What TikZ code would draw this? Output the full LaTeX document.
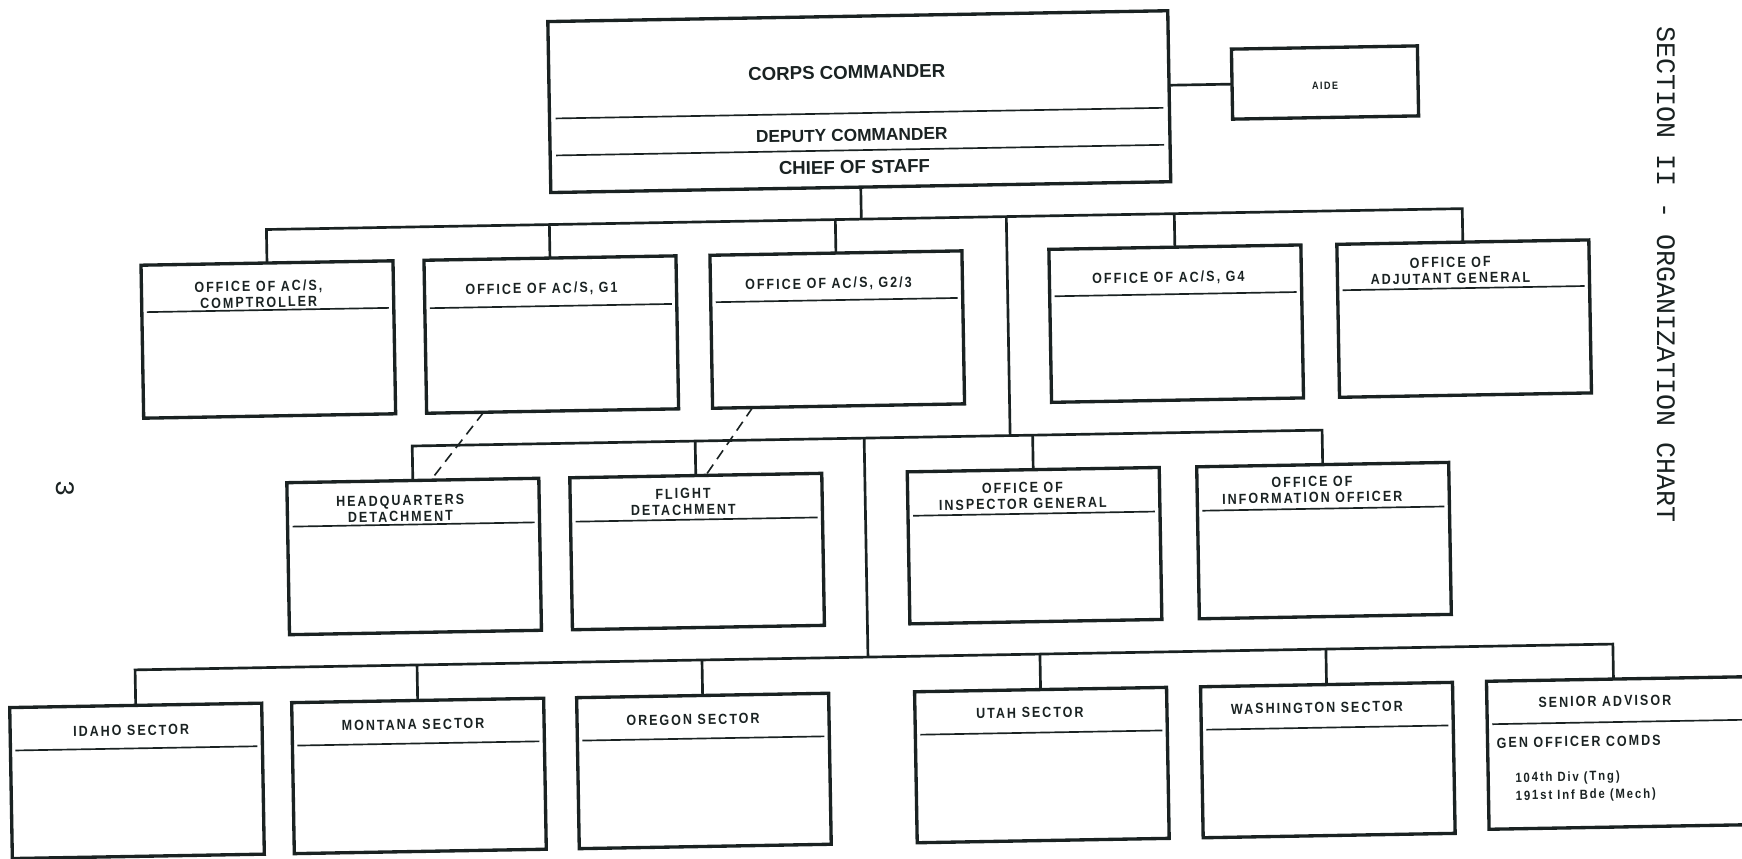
\documentclass[tikz,border=0pt]{standalone}
\usepackage{fontspec}
\setmainfont{Liberation Sans}
\newfontfamily\chartfont[LetterSpace=14,FakeStretch=0.85]{Liberation Sans}
\newfontfamily\typewriter{Liberation Mono}
\usepackage{tikz}
\usetikzlibrary{calc}
\definecolor{ink}{RGB}{26,34,34}

\begin{document}
\begin{tikzpicture}[x=0.75pt,y=0.75pt,yscale=-1,xscale=1,
  orgbox/.style={draw=ink,fill=white,line width=2.5pt,outer sep=0pt,inner sep=0pt,minimum width=189pt},
  boxlabel/.style={text=ink,inner sep=0pt,align=center,font=\chartfont\bfseries\fontsize{11}{12}\selectfont},
  wire/.style={draw=ink,line width=2pt},
  divider/.style={draw=ink,line width=1.25pt},
  dashwire/.style={draw=ink,line width=1.2pt,dash pattern=on 8pt off 5pt},
  typed/.style={text=ink,inner sep=0pt,font=\typewriter\fontsize{20}{24}\selectfont}]
%set diagram to the page: 1742 x 858
\useasboundingbox (0,0) rectangle (1742,858);
\clip (0,0) rectangle (1742,858);
\fill [white] (0,0) rectangle (1742,858);

\begin{scope}[transform canvas={rotate around={1:(870,-430)}}]
%Shape: Rectangle [corps]
\node [orgbox,minimum width=465pt,minimum height=128.25pt] (corps) at (865,101.5) {};
%Shape: Rectangle [aide]
\node [orgbox,minimum width=139.5pt,minimum height=52.5pt] (aide) at (1331,90.5) {};
%Shape: Rectangle [row of staff offices]
\node [orgbox,minimum height=114.75pt] (comptroller) at (270,329) {};
\node [orgbox,minimum height=114.75pt] (gone) at (553,329) {};
\node [orgbox,minimum height=114.75pt] (gtwothree) at (839,329) {};
\node [orgbox,minimum height=114.75pt] (gfour) at (1178,329) {};
\node [orgbox,minimum height=114.75pt] (adjutant) at (1466,329) {};
%Shape: Rectangle [row of detachments]
\node [orgbox,minimum height=114pt] (hqdet) at (412,548.5) {};
\node [orgbox,minimum height=114pt] (flightdet) at (695,548.5) {};
\node [orgbox,minimum height=114pt] (inspector) at (1032.5,548.5) {};
\node [orgbox,minimum height=114pt] (information) at (1322,548.5) {};
%Shape: Rectangle [row of sectors]
\node [orgbox,minimum height=113.25pt] (idaho) at (131,768) {};
\node [orgbox,minimum height=113.25pt] (montana) at (413,768) {};
\node [orgbox,minimum height=113.25pt] (oregon) at (698,768) {};
\node [orgbox,minimum height=113.25pt] (utah) at (1036,768) {};
\node [orgbox,minimum height=113.25pt] (washington) at (1322,768) {};
\node [orgbox,minimum width=210pt,minimum height=111pt] (senior) at (1622,766) {};

%Bus levels
\coordinate (bustwo) at (865,219);
\coordinate (trunkone) at (1010,219);
\coordinate (busthree) at (864,438);
\coordinate (busfour) at (864,657);
\coordinate (seniortap) at (1609,692);

%Straight Lines [commander to aide]
\draw [wire] (corps.east |- aide.west) -- (aide.west);
%Straight Lines [commander to staff]
\draw [wire] (corps.south) -- (corps.south |- bustwo);
\draw [wire] (comptroller.north) |- (adjutant.north |- bustwo) -- (adjutant.north);
\draw [wire] (gone.north) -- (gone.north |- bustwo);
\draw [wire] (gtwothree.north) -- (gtwothree.north |- bustwo);
\draw [wire] (gfour.north) -- (gfour.north |- bustwo);
%Straight Lines [to detachments]
\draw [wire] (trunkone) -- (trunkone |- busthree);
\draw [wire] (hqdet.north) |- (information.north |- busthree) -- (information.north);
\draw [wire] (flightdet.north) -- (flightdet.north |- busthree);
\draw [wire] (inspector.north) -- (inspector.north |- busthree);
%Straight Lines [to sectors]
\draw [wire] (busthree) -- (busfour);
\draw [wire] (idaho.north) |- (seniortap |- busfour) -- (seniortap);
\draw [wire] (montana.north) -- (montana.north |- busfour);
\draw [wire] (oregon.north) -- (oregon.north |- busfour);
\draw [wire] (utah.north) -- (utah.north |- busfour);
\draw [wire] (washington.north) -- (washington.north |- busfour);
%Dashed Lines [staff supervision]
\draw [dashwire] ($(gone.south)+(-69,0)$) -- ($(hqdet.north)+(18,0)$);
\draw [dashwire] ($(gtwothree.south)+(-86,0)$) -- ($(flightdet.north)+(10,0)$);

%Straight Lines [dividers]
\draw [divider] ($(corps.north west)+(6,97)$) -- ($(corps.north east)+(-6,97)$);
\draw [divider] ($(corps.north west)+(6,134)$) -- ($(corps.north east)+(-6,134)$);
\draw [divider] ($(comptroller.north west)+(5,47)$) -- ($(comptroller.north east)+(-5,47)$);
\draw [divider] ($(gone.north west)+(5,48)$) -- ($(gone.north east)+(-5,48)$);
\draw [divider] ($(gtwothree.north west)+(5,47)$) -- ($(gtwothree.north east)+(-5,47)$);
\draw [divider] ($(gfour.north west)+(5,47)$) -- ($(gfour.north east)+(-5,47)$);
\draw [divider] ($(adjutant.north west)+(5,46)$) -- ($(adjutant.north east)+(-5,46)$);
\draw [divider] ($(hqdet.north west)+(5,44)$) -- ($(hqdet.north east)+(-5,44)$);
\draw [divider] ($(flightdet.north west)+(5,44)$) -- ($(flightdet.north east)+(-5,44)$);
\draw [divider] ($(inspector.north west)+(5,44)$) -- ($(inspector.north east)+(-5,44)$);
\draw [divider] ($(information.north west)+(5,44)$) -- ($(information.north east)+(-5,44)$);
\draw [divider] ($(idaho.north west)+(5,43)$) -- ($(idaho.north east)+(-5,43)$);
\draw [divider] ($(montana.north west)+(5,43)$) -- ($(montana.north east)+(-5,43)$);
\draw [divider] ($(oregon.north west)+(5,43)$) -- ($(oregon.north east)+(-5,43)$);
\draw [divider] ($(utah.north west)+(5,43)$) -- ($(utah.north east)+(-5,43)$);
\draw [divider] ($(washington.north west)+(5,43)$) -- ($(washington.north east)+(-5,43)$);
\draw [divider] ($(senior.north west)+(5,43)$) -- ($(senior.north east)+(-5,43)$);

% Text Node
\node [text=ink,inner sep=0pt,font=\bfseries\fontsize{14}{16}\selectfont] (corps-text) at ($(corps.north)+(-12,56)$) {CORPS COMMANDER};
% Text Node
\node [text=ink,inner sep=0pt,font=\bfseries\fontsize{13}{15}\selectfont] (deputy-text) at ($(corps.north)+(-8,119)$) {DEPUTY COMMANDER};
% Text Node
\node [text=ink,inner sep=0pt,font=\bfseries\fontsize{14}{16}\selectfont] (chief-text) at ($(corps.north)+(-6,151)$) {CHIEF OF STAFF};
% Text Node
\node [boxlabel,font=\chartfont\bfseries\fontsize{8}{9}\selectfont] (aide-text) at ($(aide)+(0,3)$) {AIDE};
% Text Node
\node [boxlabel] (comptroller-text) at ($(comptroller.north)+(-9,31)$) {OFFICE OF AC/S,\\COMPTROLLER};
% Text Node
\node [boxlabel] (gone-text) at ($(gone.north)+(-9,31)$) {OFFICE OF AC/S, G1};
% Text Node
\node [boxlabel] (gtwothree-text) at ($(gtwothree.north)+(-8,31)$) {OFFICE OF AC/S, G2/3};
% Text Node
\node [boxlabel] (gfour-text) at ($(gfour.north)+(-7,31)$) {OFFICE OF AC/S, G4};
% Text Node
\node [boxlabel] (adjutant-text) at ($(adjutant.north)+(-13,28)$) {OFFICE OF\\ADJUTANT GENERAL};
% Text Node
\node [boxlabel] (hqdet-text) at ($(hqdet.north)+(-13,28)$) {HEADQUARTERS\\DETACHMENT};
% Text Node
\node [boxlabel] (flightdet-text) at ($(flightdet.north)+(-13,26)$) {FLIGHT\\DETACHMENT};
% Text Node
\node [boxlabel] (inspector-text) at ($(inspector.north)+(-11,26)$) {OFFICE OF\\INSPECTOR GENERAL};
% Text Node
\node [boxlabel] (information-text) at ($(information.north)+(-11,25)$) {OFFICE OF\\INFORMATION OFFICER};
% Text Node
\node [boxlabel] (idaho-text) at ($(idaho.north)+(-5,25)$) {IDAHO SECTOR};
% Text Node
\node [boxlabel] (montana-text) at ($(montana.north)+(-5,24)$) {MONTANA SECTOR};
% Text Node
\node [boxlabel] (oregon-text) at ($(oregon.north)+(-10,24)$) {OREGON SECTOR};
% Text Node
\node [boxlabel] (utah-text) at ($(utah.north)+(-11,23)$) {UTAH SECTOR};
% Text Node
\node [boxlabel] (washington-text) at ($(washington.north)+(-10,23)$) {WASHINGTON SECTOR};
% Text Node
\node [boxlabel] (senior-text) at ($(senior.north west)+(118,22)$) {SENIOR ADVISOR};
% Text Node
\node [boxlabel,anchor=west] (gencomds-text) at ($(senior.north west)+(9,62)$) {GEN OFFICER COMDS};
% Text Node
\node [boxlabel,anchor=west,align=left,font=\chartfont\bfseries\fontsize{10}{13.5}\selectfont] (units-text) at ($(senior.north west)+(27,107)$) {104th Div (Tng)\\191st Inf Bde (Mech)};
\end{scope}

% Text Node
\node [typed,rotate=-90] (title) at (1666,275) {SECTION II - ORGANIZATION CHART};
% Text Node
\node [typed,rotate=-90] (pageno) at (65,488) {3};

\end{tikzpicture}
\end{document}
